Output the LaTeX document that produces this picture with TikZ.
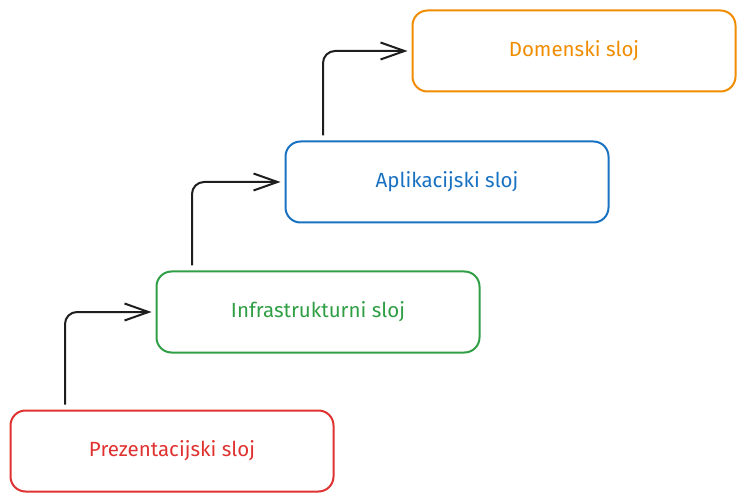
\documentclass[tikz,border=0pt]{standalone}
\usepackage{fontspec}
\setmainfont{Fira Sans}
\usetikzlibrary{arrows.meta}

\definecolor{domorange}{HTML}{F08C00}
\definecolor{appblue}{HTML}{1971C2}
\definecolor{infgreen}{HTML}{2F9E44}
\definecolor{prered}{HTML}{E03131}
\definecolor{ink}{HTML}{1E1E1E}

\tikzset{
    layer/.style={draw, rounded corners=15pt, line width=2pt, minimum width=323pt, minimum height=81pt,
        font=\fontsize{20.5}{24}\selectfont},
    flow/.style={ink, line width=2pt, rounded corners=12pt, shorten <=5pt, shorten >=4pt,
        -{Straight Barb[length=24pt, width=17pt, line width=2pt]}}
}

\begin{document}
\begin{tikzpicture}[x=1pt, y=-1pt]

            \useasboundingbox (0,0) rectangle (746,502);

            \node[layer, domorange] (dom) at (574,51)  {Domenski sloj};
            \node[layer, appblue]   (app) at (447,182) {Aplikacijski sloj};
            \node[layer, infgreen]  (inf) at (318,312) {Infrastrukturni sloj};
            \node[layer, prered]    (pre) at (172,451) {Prezentacijski sloj};

            \draw[flow] ([xshift=-107pt]pre.north) |- (inf.west);
            \draw[flow] ([xshift=-126pt]inf.north) |- (app.west);
            \draw[flow] ([xshift=-124pt]app.north) |- (dom.west);

        \end{tikzpicture}
\end{document}
